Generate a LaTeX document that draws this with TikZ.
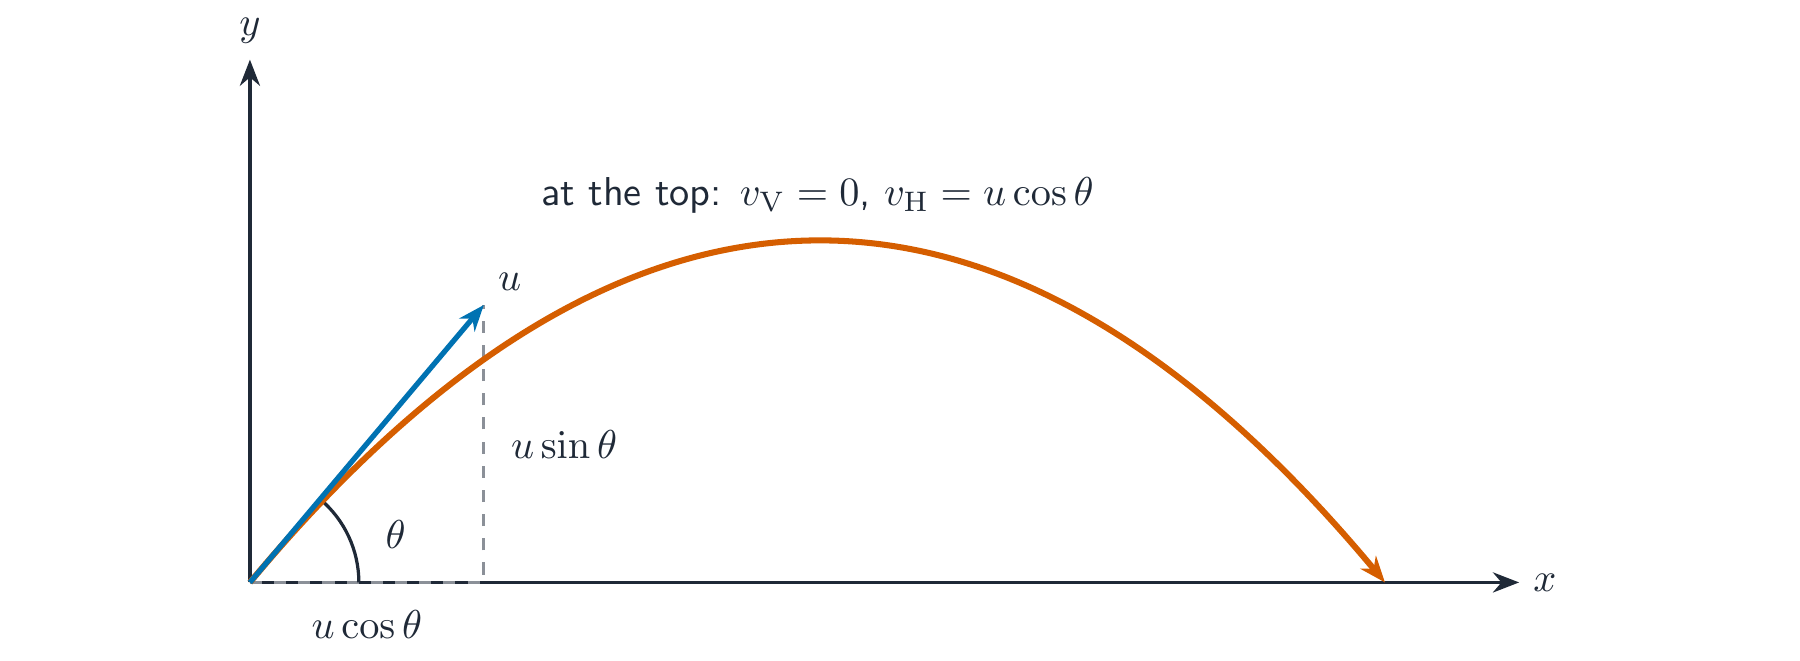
\documentclass[tikz,border=0pt]{standalone}
\usepackage{amsmath}
\usepackage{tikz}
\usetikzlibrary{arrows.meta}

\definecolor{ink}{HTML}{1F2937}
\definecolor{trajorange}{HTML}{D55E00}
\definecolor{velblue}{HTML}{0072B2}
\definecolor{guidegray}{HTML}{8B9098}

\begin{document}
\begin{tikzpicture}[>={Stealth[length=6.5pt,width=5pt]}, color=ink]
    \useasboundingbox (-2.18,-0.68) rectangle (13.52,5.08);

    \def\xaxislen{11.07}
    \def\yaxislen{4.56}
    \def\flightrange{9.9}
    \def\peakheight{2.97}



    \coordinate (O) at (0,0);

    \coordinate (X) at (\xaxislen,0);

    \coordinate (Y) at (0,\yaxislen);

    \coordinate (U) at (2.04,2.42);

    \coordinate (Ufoot) at (2.04,0);

    \coordinate (land) at (\flightrange,0);



    \draw[line width=0.85pt, ->] (O) -- (X);

    \draw[line width=0.85pt, ->] (O) -- (Y);

    \draw[guidegray, dashed, line width=0.7pt] (O) -- (Ufoot) -- (U);



    \draw[line width=0.8pt] (0.95,0) arc (0:50:0.95);

    \draw[trajorange, line width=1.5pt, ->] (O) .. controls
    (3.3,3.96) and (6.6,3.96) .. (land);

    \draw[velblue, line width=1.3pt, ->] (O) -- (U);



    \node (xlab) at (X) [right] {$x$};

    \node (ylab) at (0,4.81) {$y$};

    \node (ulab) at (U) [above right] {$u$};

    \node (sinlab) at (2.74,1.2) {$u\sin\theta$};

    \node (coslab) at (1.02,-0.37) {$u\cos\theta$};

    \node (thetalab) at (1.27,0.42) {$\theta$};

    \node (toplab) at (\flightrange/2,3.38) {\sffamily at the top:
      $v_{\mathrm{V}}=0$, $v_{\mathrm{H}}=u\cos\theta$};
  \end{tikzpicture}
\end{document}
